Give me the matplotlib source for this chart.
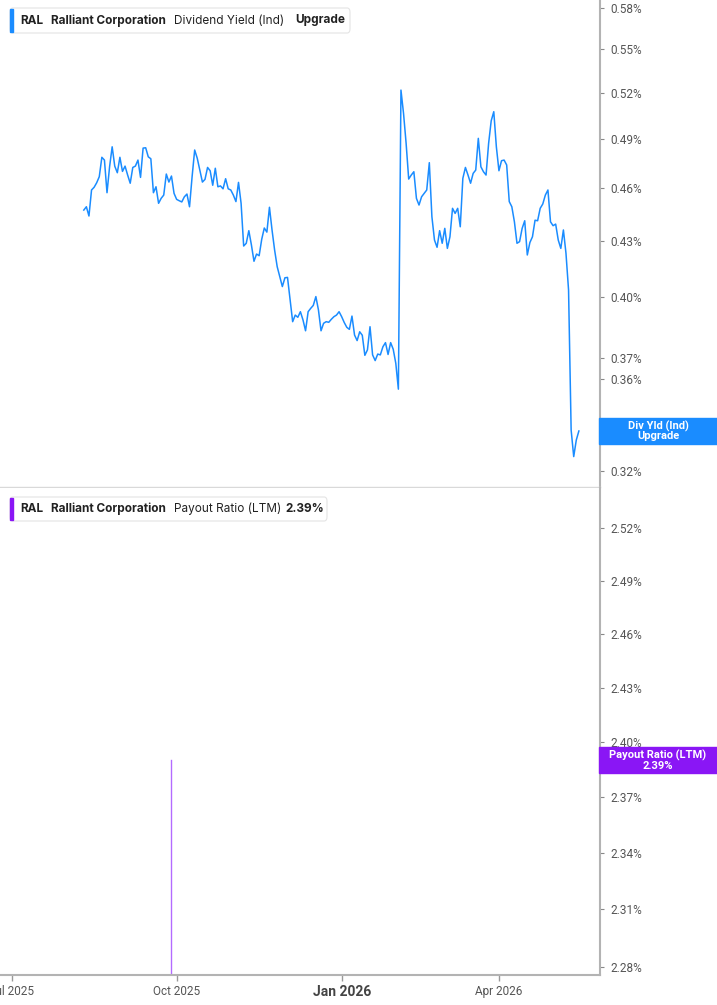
import numpy as np
import pandas as pd
import matplotlib
matplotlib.use("Agg")
import matplotlib.pyplot as plt
from matplotlib.patches import FancyBboxPatch, Rectangle
from matplotlib.ticker import FixedLocator, FuncFormatter, NullLocator

plt.rcParams['font.family'] = ['Inter', 'DejaVu Sans']

# ── Data ──────────────────────────────────────────────────
ticker  = "RAL"
company = "Ralliant Corporation"

market_holidays = ["2025-06-19", "2025-07-04", "2025-09-01", "2025-11-27",
                   "2025-12-25", "2026-01-01", "2026-01-19", "2026-02-16",
                   "2026-04-03", "2026-05-25", "2026-06-19"]

# dividend yield (ind), one value per trading day from yield_start
yield_start = "2025-08-11"
div_yield = [
    0.4473, 0.4492, 0.4439, 0.4590, 0.4606, 0.4633, 0.4669, 0.4787, 0.4770, 0.4574,
    0.4729, 0.4852, 0.4733, 0.4693, 0.4787, 0.4701, 0.4733, 0.4679, 0.4630, 0.4725,
    0.4733, 0.4770, 0.4665, 0.4844, 0.4846, 0.4790, 0.4778, 0.4574, 0.4609, 0.4512,
    0.4541, 0.4560, 0.4685, 0.4637, 0.4673, 0.4570, 0.4535, 0.4527, 0.4520, 0.4550,
    0.4566, 0.4492, 0.4669, 0.4832, 0.4781, 0.4709, 0.4637, 0.4653, 0.4725, 0.4705,
    0.4618, 0.4720, 0.4609, 0.4614, 0.4597, 0.4657, 0.4597, 0.4590, 0.4560, 0.4522,
    0.4635, 0.4512, 0.4271, 0.4286, 0.4356, 0.4277, 0.4188, 0.4227, 0.4218, 0.4308,
    0.4371, 0.4348, 0.4489, 0.4360, 0.4249, 0.4159, 0.4106, 0.4054, 0.4100, 0.4102,
    0.3985, 0.3875, 0.3908, 0.3897, 0.3925, 0.3884, 0.3830, 0.3925, 0.3942, 0.3957,
    0.4002, 0.3934, 0.3830, 0.3867, 0.3875, 0.3872, 0.3887, 0.3900, 0.3908, 0.3925,
    0.3900, 0.3871, 0.3847, 0.3837, 0.3903, 0.3809, 0.3782, 0.3825, 0.3808, 0.3711,
    0.3737, 0.3850, 0.3713, 0.3686, 0.3717, 0.3713, 0.3752, 0.3772, 0.3715, 0.3772,
    0.3740, 0.3673, 0.3553,
    0.5219, 0.5065, 0.4874, 0.4655, 0.4679, 0.4699, 0.4541, 0.4502, 0.4550, 0.4570,
    0.4590, 0.4754, 0.4435, 0.4304, 0.4264, 0.4356, 0.4286, 0.4369, 0.4258, 0.4322,
    0.4483, 0.4454, 0.4483, 0.4378, 0.4659, 0.4725, 0.4679, 0.4630, 0.4689, 0.4709,
    0.4905, 0.4729, 0.4699, 0.4679, 0.4874, 0.5017, 0.5076, 0.4852, 0.4705, 0.4766,
    0.4770, 0.4740, 0.4522, 0.4492, 0.4406, 0.4286, 0.4295, 0.4369, 0.4412, 0.4222,
    0.4290, 0.4322, 0.4415, 0.4412, 0.4483, 0.4508, 0.4560, 0.4590, 0.4406, 0.4384,
    0.4393, 0.4304, 0.4258, 0.4360, 0.4231, 0.4036, 0.3371, 0.3258, 0.3328, 0.3367,
]

# payout ratio (LTM): only one jump is visible
payout_dates = ["2025-09-29", "2025-09-29"]
payout_ratio = [2.20, 2.39]

yield_ticks  = [0.32, 0.34, 0.36, 0.37, 0.40, 0.43, 0.46, 0.49, 0.52, 0.55, 0.58]
payout_ticks = [2.28, 2.31, 2.34, 2.37, 2.40, 2.43, 2.46, 2.49, 2.52]

month_ticks  = ["2025-07-01", "2025-10-01", "2026-01-01", "2026-04-01"]
month_labels = ["Jul 2025", "Oct 2025", "Jan 2026", "Apr 2026"]

# ── Colours ───────────────────────────────────────────────
BLUE      = "#1a8cff"
PURPLE    = "#8a16f5"
PURPLE_LN = "#b36bff"
AXIS_GREY = "#b3b3b3"
TXT_GREY  = "#555555"
TICK_FONT = ["Roboto", "DejaVu Sans"]

# ── Trading-day x axis ────────────────────────────────────
cal = pd.bdate_range("2025-06-01", "2026-06-30", freq="C", holidays=market_holidays)
start_idx = cal.searchsorted(pd.Timestamp(yield_start))
yield_x   = np.arange(start_idx, start_idx + len(div_yield))
payout_x  = cal.searchsorted(pd.to_datetime(payout_dates))
tick_x    = cal.searchsorted(pd.to_datetime(month_ticks))
x_lo, x_hi = tick_x[0] - 4.5, tick_x[0] + 228

W, H = 717, 1005
fig = plt.figure(figsize=(W / 100, H / 100), dpi=100)
fig.patch.set_facecolor("white")

ax1 = fig.add_axes([0, 1 - 487 / H, 599.5 / W, 487 / H])
ax2 = fig.add_axes([0, 1 - 975 / H, 599.5 / W, 487 / H])

pct = FuncFormatter(lambda v, _: f"{v:.2f}%")

# ── Top panel: dividend yield ─────────────────────────────
ax1.plot(yield_x, div_yield, color=BLUE, lw=1.1)
ax1.set_yscale("log")
ax1.set_ylim(0.3133, 0.586)
ax1.set_xlim(x_lo, x_hi)
ax1.set_xticks([])

# ── Bottom panel: payout ratio ────────────────────────────
ax2.plot(payout_x, payout_ratio, color=PURPLE_LN, lw=1.0)
ax2.set_yscale("log")
ax2.set_ylim(2.2756, 2.5434)
ax2.set_xlim(x_lo, x_hi)
ax2.set_xticks(tick_x)
ax2.set_xticklabels(month_labels, family=TICK_FONT)
ax2.tick_params(axis="x", direction="out", length=4, width=1, color="#999999",
                labelsize=8.5, labelcolor=TXT_GREY, pad=3)
jan = ax2.get_xticklabels()[2]
jan.set_fontweight("bold")
jan.set_fontsize(10)
jan.set_color("#444444")

for ax, ticks in ((ax1, yield_ticks), (ax2, payout_ticks)):
    ax.set_facecolor("white")
    ax.yaxis.tick_right()
    ax.yaxis.set_major_locator(FixedLocator(ticks))
    ax.yaxis.set_minor_locator(NullLocator())
    ax.yaxis.set_major_formatter(pct)
    ax.tick_params(axis="y", direction="out", length=3, width=0.8, color="#888888",
                   labelsize=8.5, labelcolor=TXT_GREY, pad=5)
    for lbl in ax.get_yticklabels():
        lbl.set_family(TICK_FONT)
    ax.spines["left"].set_visible(False)
    ax.spines["top"].set_visible(False)
    ax.spines["right"].set_color(AXIS_GREY)
    ax.spines["right"].set_linewidth(1.5)

ax1.spines["bottom"].set_color("#d9d9d9")
ax1.spines["bottom"].set_linewidth(1.0)
ax2.spines["bottom"].set_color(AXIS_GREY)
ax2.spines["bottom"].set_linewidth(1.5)


# ── Helpers in pixel space ────────────────────────────────
def fx(x):
    return x / W


def fy(y):
    return 1 - y / H


def legend_box(top, bottom, right, colour, parts):
    fig.patches.append(FancyBboxPatch((fx(10), fy(bottom)), fx(right - 10), (bottom - top) / H,
                                      boxstyle="round,pad=0,rounding_size=0.004",
                                      transform=fig.transFigure, fc="white",
                                      ec="#e4e4e4", lw=0.8, zorder=5))
    fig.patches.append(Rectangle((fx(10), fy(bottom - 1)), fx(3), (bottom - top - 2) / H,
                                 transform=fig.transFigure, color=colour, zorder=6))
    yc = fy((top + bottom) / 2)
    for x, txt, weight in parts:
        fig.text(fx(x), yc, txt, fontsize=8.5, fontweight=weight, color="#222222",
                 ha="left", va="center", zorder=7)


def value_label(ax, value, colour, text):
    fig.canvas.draw()
    y_px = ax.transData.transform((x_hi, value))[1]
    h = 26
    fig.patches.append(Rectangle((fx(598.5), (y_px - h / 2) / H), fx(W - 598.5), h / H,
                                 transform=fig.transFigure, color=colour, zorder=5))
    fig.text(fx(658), y_px / H, text, fontsize=8, fontweight="bold", color="white",
             family=TICK_FONT, ha="center", va="center", linespacing=0.95, zorder=6)


legend_box(8, 33, 350, BLUE,
           [(20.5, ticker, "bold"), (51.5, company, "bold"),
            (174, "Dividend Yield (Ind)", "normal"), (295, "Upgrade", "bold")])
legend_box(497, 521, 327, PURPLE,
           [(20.5, ticker, "bold"), (51.5, company, "bold"),
            (174, "Payout Ratio (LTM)", "normal"), (285, f"{payout_ratio[-1]:.2f}%", "bold")])

value_label(ax1, div_yield[-1], BLUE, "Div Yld (Ind)\nUpgrade")
value_label(ax2, payout_ratio[-1], PURPLE, f"Payout Ratio (LTM)\n{payout_ratio[-1]:.2f}%")

fig.savefig("out.png", dpi=100)
plt.close(fig)
print("Saved: out.png")
